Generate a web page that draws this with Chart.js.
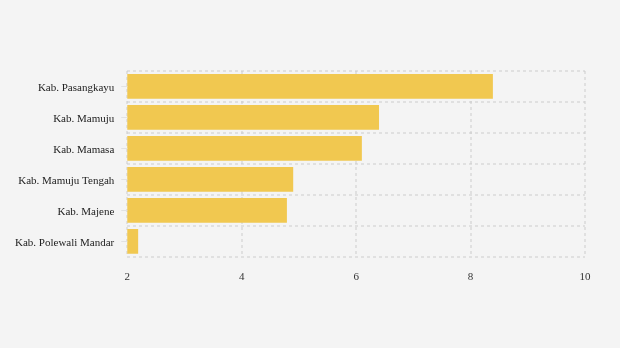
<!DOCTYPE html>
<html>
<head>
<meta charset="utf-8">
<script src="https://cdn.jsdelivr.net/npm/chart.js@4"></script>
<style>
  html, body { margin: 0; padding: 0; background: #f4f4f4; }
  #wrap { width: 620px; height: 348px; position: relative; }
</style>
</head>
<body>
<div id="wrap"><canvas id="chart"></canvas></div>
<script>
const categories = ['Kab. Pasangkayu', 'Kab. Mamuju', 'Kab. Mamasa', 'Kab. Mamuju Tengah', 'Kab. Majene', 'Kab. Polewali Mandar'];
const values = [8.39, 6.40, 6.10, 4.90, 4.79, 2.19];
const xTicks = [2, 4, 6, 8, 10];

const gridColor = 'rgba(200, 200, 200, 0.45)';

// short tick marks at the centre of each category label
const yTickMarks = {
    id: 'yTickMarks',
    afterDraw(chart) {
        const y = chart.scales.y;
        const ctx = chart.ctx;
        ctx.save();
        ctx.strokeStyle = '#e2e2e2';
        ctx.lineWidth = 1;
        y.ticks.forEach((t, i) => {
            const py = Math.round(y.getPixelForTick(i)) + 0.5;
            ctx.beginPath();
            ctx.moveTo(y.right - 6, py);
            ctx.lineTo(y.right, py);
            ctx.stroke();
        });
        ctx.restore();
    }
};

new Chart(document.getElementById('chart'), {
    type: 'bar',
    data: {
        labels: categories,
        datasets: [{
            data: values,
            backgroundColor: '#f1c850',
            barPercentage: 0.8,
            categoryPercentage: 1
        }]
    },
    options: {
        indexAxis: 'y',
        responsive: true,
        maintainAspectRatio: false,
        animation: false,
        layout: { padding: { top: 71, right: 35, bottom: 50, left: 2 } },
        plugins: {
            legend: { display: false },
            tooltip: { enabled: false }
        },
        scales: {
            x: {
                min: 2,
                max: 10,
                z: 1,
                afterBuildTicks: (scale) => {
                    scale.ticks = xTicks.map(v => ({ value: v }));
                },
                border: { display: false, dash: [3, 3] },
                grid: {
                    color: gridColor,
                    lineWidth: 2,
                    drawTicks: false
                },
                ticks: {
                    padding: 14,
                    color: '#333',
                    font: { family: 'Liberation Serif', size: 11 }
                }
            },
            y: {
                z: 1,
                border: { display: false, dash: [3, 3] },
                grid: {
                    color: gridColor,
                    lineWidth: 2,
                    drawTicks: false,
                    offset: true
                },
                ticks: {
                    padding: 13,
                    labelOffset: 2,
                    color: '#222',
                    font: { family: 'Liberation Serif', size: 11 }
                }
            }
        }
    },
    plugins: [yTickMarks]
});
</script>
</body>
</html>
